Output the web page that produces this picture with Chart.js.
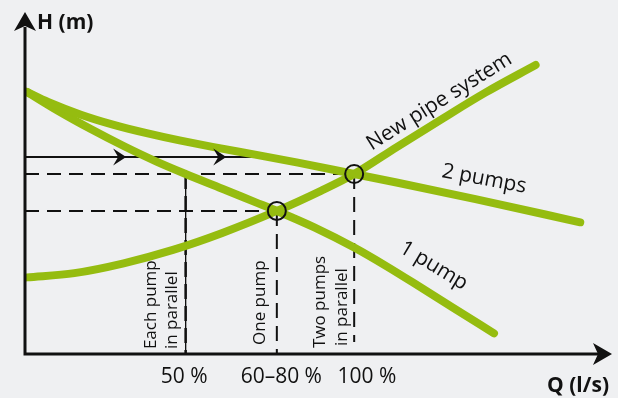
<!DOCTYPE html>
<html>
<head>
<meta charset="utf-8">
<script src="https://cdn.jsdelivr.net/npm/chart.js@4.4.1/dist/chart.umd.min.js"></script>
<style>
  html, body { margin: 0; padding: 0; background: #EFF0F2; }
  #wrap { width: 618px; height: 398px; }
  canvas { display: block; }
</style>
</head>
<body>
<div id="wrap"><canvas id="c" width="618" height="398" style="width:618px;height:398px"></canvas></div>
<script>
// ---- Data (Q in % of two-pump flow, H in m, arbitrary scale) ----
const qTwoPumps = [0.6, 7, 17, 27, 37, 47, 57, 70, 83, 100.11, 113, 137, 168.86];
const hTwoPumps = [15.46, 14.87, 14.12, 13.52, 13.03, 12.60, 12.22, 11.76, 11.29, 10.62, 10.12, 9.14, 7.77];

const qOnePump = [0.6, 10, 20, 30, 40, 48.85, 60, 70, 76.59, 88, 100.11, 110, 120, 130, 142.63];
const hOnePump = [15.46, 14.35, 13.27, 12.27, 11.35, 10.62, 9.75, 8.96, 8.44, 7.47, 6.28, 5.17, 3.97, 2.75, 1.22];

const qPipe = [0.6, 15, 30, 45, 60, 76.59, 90, 100.11, 113.07, 127.25, 140, 155.29];
const hPipe = [4.52, 4.77, 5.35, 6.14, 7.14, 8.44, 9.63, 10.62, 12.21, 13.92, 15.42, 17.05];

// operating points: [one pump, two pumps]
const opQ = [76.59, 100.11];
const opH = [8.44, 10.62];
const eachPumpQ = 48.85;
const twoPumpDropEndH = 0.71;

// flow arrow line
const flowH = 11.62;
const flowQ = [0, 71.46];
const flowTipsQ = [30.76, 61.21];

// tick labels
const tickLabels = ['50 %', '60\u201380 %', '100 %'];
const tickLabelQ = [48.4, 77.95, 104.0];

const Q_MAX = 177, H_MAX = 20;
const GREEN = '#95BC10';
const INK = '#111111';

const pts = (qs, hs) => qs.map((q, i) => ({ x: q, y: hs[i] }));

const curveStyle = {
  borderColor: GREEN, borderWidth: 8, borderCapStyle: 'round', borderJoinStyle: 'round',
  pointRadius: 0, cubicInterpolationMode: 'monotone', fill: false
};
const dashStyle = {
  borderColor: INK, borderWidth: 2, borderDash: [14, 8], pointRadius: 0, tension: 0, fill: false
};

const datasets = [
  { label: 'Operating points', data: pts(opQ, opH), showLine: false, pointRadius: 9,
    pointBorderWidth: 2, pointBorderColor: INK, pointBackgroundColor: 'rgba(0,0,0,0)', order: 0 },
  Object.assign({ label: '2 pumps', data: pts(qTwoPumps, hTwoPumps), order: 1 }, curveStyle),
  Object.assign({ label: '1 pump', data: pts(qOnePump, hOnePump), order: 1 }, curveStyle),
  Object.assign({ label: 'New pipe system', data: pts(qPipe, hPipe), order: 1 }, curveStyle),
  { label: 'flow', data: [{ x: flowQ[0], y: flowH }, { x: flowQ[1], y: flowH }],
    borderColor: INK, borderWidth: 2, pointRadius: 0, tension: 0, order: 2 },
  Object.assign({ label: 'h2', data: [{ x: 0, y: opH[1] }, { x: opQ[1], y: opH[1] }], order: 3 }, dashStyle),
  Object.assign({ label: 'h1', data: [{ x: 0, y: opH[0] }, { x: opQ[0], y: opH[0] }], order: 3 }, dashStyle),
  { label: 'v50solid', data: [{ x: eachPumpQ, y: opH[1] }, { x: eachPumpQ, y: 0 }],
    borderColor: INK, borderWidth: 1, pointRadius: 0, tension: 0, order: 3 },
  Object.assign({ label: 'v50', data: [{ x: eachPumpQ, y: opH[1] }, { x: eachPumpQ, y: 0 }], order: 3 }, dashStyle, { borderWidth: 2.5, borderDash: [15, 7] }),
  Object.assign({ label: 'v1', data: [{ x: opQ[0], y: opH[0] }, { x: opQ[0], y: 0 }], order: 3 }, dashStyle, { borderDash: [15, 8] }),
  Object.assign({ label: 'v2', data: [{ x: opQ[1], y: opH[1] }, { x: opQ[1], y: twoPumpDropEndH }], order: 3 }, dashStyle, { borderDash: [15, 8] })
];

function arrowHead(ctx, tipX, tipY, dx, dy, len, half, notch) {
  const px = -dy, py = dx;
  const bx = tipX - dx * len, by = tipY - dy * len;
  ctx.beginPath();
  ctx.moveTo(tipX, tipY);
  ctx.lineTo(bx + px * half, by + py * half);
  ctx.lineTo(tipX - dx * (len - notch), tipY - dy * (len - notch));
  ctx.lineTo(bx - px * half, by - py * half);
  ctx.closePath();
  ctx.fill();
}

const decor = {
  id: 'decor',
  afterDatasetsDraw(chart) {
    const ctx = chart.ctx;
    const xs = chart.scales.x, ys = chart.scales.y;
    const a = chart.chartArea;
    ctx.save();
    ctx.fillStyle = INK;
    ctx.strokeStyle = INK;

    // flow arrowheads
    flowTipsQ.forEach(q => arrowHead(ctx, xs.getPixelForValue(q), ys.getPixelForValue(flowH), 1, 0, 13, 8.5, 5));

    // axes
    ctx.lineWidth = 3;
    ctx.lineCap = 'butt';
    ctx.beginPath();
    ctx.moveTo(a.left, a.top + 12);
    ctx.lineTo(a.left, a.bottom);
    ctx.lineTo(a.right - 8, a.bottom);
    ctx.stroke();
    arrowHead(ctx, a.left, a.top - 3, 0, -1, 19, 11, 5);
    arrowHead(ctx, a.right + 5, a.bottom, 1, 0, 19, 11, 5);

    // axis titles
    ctx.fillStyle = INK;
    ctx.textBaseline = 'alphabetic';
    ctx.textAlign = 'left';
    ctx.font = 'bold 21px "Open Sans"';
    ctx.fillText('H (m)', a.left + 12, a.top + 14);
    ctx.textAlign = 'right';
    ctx.fillText('Q (l/s)', a.right + 2, a.bottom + 38);

    // tick labels
    ctx.font = '21px "Open Sans"';
    ctx.textAlign = 'center';
    tickLabels.forEach((t, i) => ctx.fillText(t, xs.getPixelForValue(tickLabelQ[i]), a.bottom + 29));

    // curve labels
    const rotLabel = (text, q, h, deg, size, align) => {
      ctx.save();
      ctx.translate(xs.getPixelForValue(q), ys.getPixelForValue(h));
      ctx.rotate(deg * Math.PI / 180);
      ctx.font = size + 'px "Open Sans"';
      ctx.textAlign = align;
      ctx.fillText(text, 0, 0);
      ctx.restore();
    };
    rotLabel('New pipe system', 127.0, 14.6, -32, 21, 'center');
    rotLabel('2 pumps', 139.3, 9.97, 10.7, 21, 'center');
    rotLabel('1 pump', 123.33, 4.90, 31, 21, 'center');

    // vertical labels
    rotLabel('Each pump', 39.8, 0.29, -90, 17, 'left');
    rotLabel('in parallel', 46.13, 0.29, -90, 17, 'left');
    rotLabel('One pump', 72.97, 0.53, -90, 17, 'left');
    rotLabel('Two pumps', 91.36, 0.35, -90, 17, 'left');
    rotLabel('in parallel', 98.0, 0.47, -90, 17, 'left');

    ctx.restore();
  }
};

new Chart(document.getElementById('c').getContext('2d'), {
  type: 'line',
  data: { datasets },
  options: {
    responsive: false,
    animation: false,
    devicePixelRatio: 1,
    layout: { padding: { left: 25, right: 6, top: 15, bottom: 44 } },
    scales: {
      x: { type: 'linear', min: 0, max: Q_MAX, display: false },
      y: { type: 'linear', min: 0, max: H_MAX, display: false }
    },
    plugins: { legend: { display: false }, tooltip: { enabled: false } },
    events: []
  },
  plugins: [decor]
});
</script>
</body>
</html>
